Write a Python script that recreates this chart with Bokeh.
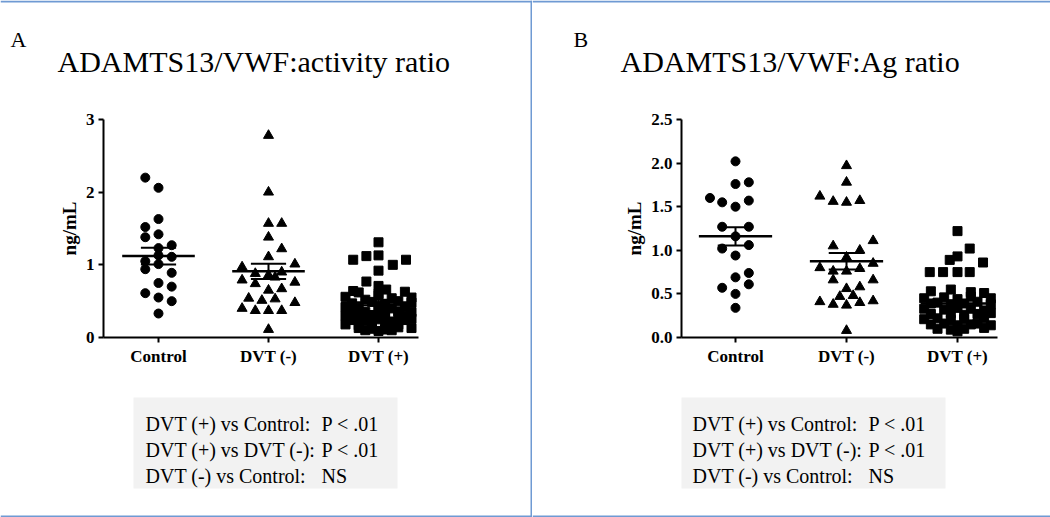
from bokeh.plotting import figure
from bokeh.layouts import row
from bokeh.models import FixedTicker, PrintfTickFormatter, Range1d
from bokeh.core.properties import value
from bokeh.embed import file_html
from bokeh.resources import INLINE

categories = ["Control", "DVT (-)", "DVT (+)"]

# ---------------- Panel A : ADAMTS13/VWF:activity ratio ----------------
a_ctrl = [2.20, 2.06, 1.63, 1.52, 1.42, 1.38, 1.27, 1.23, 1.11, 1.05,
          1.13, 0.94, 1.01, 0.89, 0.75, 0.70, 0.61, 0.55, 0.50, 0.33]
a_ctrl_dx = [-0.12, 0, 0, -0.12, 0, -0.12, 0.12, 0, 0.12, -0.12,
             0, -0.12, 0, 0.12, 0, 0.12, -0.12, 0, 0.12, 0]

a_neg = [2.78, 2.00, 1.57, 1.57, 1.38, 1.22, 1.11, 0.97, 1.01, 0.88,
         0.86, 0.83, 0.90, 0.79, 0.74, 0.65, 0.67, 0.76, 0.54, 0.51,
         0.53, 0.40, 0.37, 0.37, 0.37, 0.48, 0.11]
a_neg_dx = [0, 0, 0, 0.12, 0, 0.12, 0, -0.24, 0.24, -0.12,
            0, 0.06, 0.12, -0.24, -0.12, 0, 0.12, 0.24, -0.18, -0.06,
            0.06, -0.24, -0.12, 0, 0.12, 0.24, 0]

a_pos = [1.31, 1.07, 1.12, 1.13, 1.07, 1.00, 0.92, 0.77, 0.71, 0.64, 0.66,
         0.62, 0.60, 0.63,
         0.56, 0.52, 0.58, 0.54, 0.55,
         0.47, 0.49, 0.46, 0.50, 0.48,
         0.42, 0.41, 0.43, 0.40, 0.42,
         0.36, 0.35, 0.37, 0.34, 0.36, 0.35,
         0.30, 0.29, 0.31, 0.28, 0.30, 0.29,
         0.24, 0.23, 0.25, 0.22, 0.24, 0.26,
         0.18, 0.17, 0.19, 0.16, 0.18,
         0.13, 0.12, 0.11, 0.14, 0.13,
         0.10, 0.09, 0.10]
a_pos_dx = [0, -0.23, -0.11, 0, 0.25, 0.13, 0, -0.11, 0, -0.23, 0.07,
            -0.18, 0.0, 0.24,
            -0.30, -0.12, 0.0, 0.12, 0.30,
            -0.24, -0.06, 0.06, 0.18, 0.30,
            -0.30, -0.18, 0.0, 0.12, 0.24,
            -0.24, -0.12, 0.0, 0.06, 0.18, 0.30,
            -0.30, -0.18, -0.06, 0.06, 0.18, 0.24,
            -0.24, -0.12, 0.0, 0.12, 0.24, 0.30,
            -0.30, -0.18, -0.06, 0.06, 0.18,
            -0.18, -0.06, 0.06, 0.18, 0.30,
            -0.12, 0.0, 0.12]

a_means = [1.12, 0.91, 0.48]
a_sems = [0.115, 0.105, 0.04]
a_yticks = [0, 1, 2, 3]

# ---------------- Panel B : ADAMTS13/VWF:Ag ratio ----------------
b_ctrl = [2.02, 1.76, 1.78, 1.60, 1.55, 1.50, 1.57, 1.27, 1.27, 1.16,
          1.02, 1.06, 0.94, 0.74, 0.69, 0.57, 0.61, 0.50, 0.34]
b_ctrl_dx = [0, 0, 0.12, -0.23, -0.12, 0, 0.12, -0.12, 0.12, 0,
             -0.12, 0.12, 0, 0.12, 0, -0.12, 0.12, 0, 0]

b_neg = [1.97, 1.78, 1.62, 1.56, 1.55, 1.57, 1.05, 1.11, 1.00, 0.92,
         0.80, 0.76, 0.76, 0.79, 0.85, 0.66, 0.66, 0.56, 0.58, 0.48,
         0.47, 0.41, 0.38, 0.37, 0.40, 0.42, 0.08]
b_neg_dx = [0, 0, -0.24, -0.12, 0, 0.12, -0.12, 0.24, 0.12, 0,
            -0.24, -0.12, 0, 0.12, 0.24, -0.12, 0.24, 0, 0.12, 0.06,
            -0.06, -0.24, -0.12, 0, 0.12, 0.24, 0]

b_pos = [1.22, 1.02, 0.93, 0.89, 0.86, 0.75, 0.75, 0.75, 0.75,
         0.53, 0.55, 0.52, 0.51,
         0.45, 0.46, 0.44, 0.47, 0.45,
         0.39, 0.40, 0.38, 0.39, 0.41, 0.38,
         0.33, 0.32, 0.34, 0.33, 0.31,
         0.27, 0.28, 0.26, 0.27, 0.28,
         0.21, 0.22, 0.20, 0.21, 0.22,
         0.15, 0.16, 0.14, 0.15, 0.16, 0.14,
         0.10, 0.09, 0.10, 0.11,
         0.07]
b_pos_dx = [0, 0.11, 0, -0.07, 0.23, -0.25, -0.13, 0, 0.11,
            -0.24, -0.06, 0.12, 0.24,
            -0.30, -0.12, 0.0, 0.12, 0.30,
            -0.24, -0.18, -0.06, 0.06, 0.18, 0.30,
            -0.30, -0.12, 0.0, 0.12, 0.24,
            -0.24, -0.06, 0.06, 0.18, 0.30,
            -0.30, -0.18, -0.06, 0.06, 0.24,
            -0.24, -0.12, 0.0, 0.12, 0.18, 0.30,
            -0.18, -0.06, 0.06, 0.24,
            0.0]

b_means = [1.16, 0.875, 0.39]
b_sems = [0.105, 0.095, 0.035]
b_yticks = [0, 0.5, 1.0, 1.5, 2.0, 2.5]

stats_left = ["DVT (+) vs Control:", "DVT (+) vs DVT (-):", "DVT (-) vs Control:"]
stats_right = ["P < .01", "P < .01", "NS"]

SERIF = "Liberation Serif"
BLUE = "#6f9ad3"
H = 517
FRAME_TOP, FRAME_BOT = 119, 337     # page y of plot area top / bottom


def panel(x0, w, axis_px, cat0_px, step_px, right_px, y_max, yticks, fmt,
          groups, means, sems, letter, letter_x, title, title_x,
          box_l, box_r, text_x, divider):
    # data ranges chosen so that the whole canvas is the frame
    per_unit_y = (FRAME_BOT - FRAME_TOP) / y_max
    xr = Range1d((x0 - cat0_px) / step_px, (x0 + w - cat0_px) / step_px)
    yr = Range1d((FRAME_BOT - H) / per_unit_y, FRAME_BOT / per_unit_y)
    p = figure(width=w, height=H, output_backend="svg", toolbar_location=None,
               x_range=xr, y_range=yr,
               min_border=0, min_border_left=0, min_border_right=0,
               min_border_top=0, min_border_bottom=0)
    p.title.visible = False
    p.outline_line_color = None
    p.grid.visible = False
    p.background_fill_color = "white"
    p.border_fill_color = "white"
    # page-pixel ranges for the decorations
    p.extra_x_ranges = {"px": Range1d(x0, x0 + w)}
    p.extra_y_ranges = {"py": Range1d(H, 0)}

    x_lo = (axis_px - cat0_px) / step_px
    x_hi = (right_px - cat0_px) / step_px

    xa, ya = p.xaxis[0], p.yaxis[0]
    xa.fixed_location = 0
    ya.fixed_location = x_lo
    xa.bounds = (x_lo, x_hi)
    ya.bounds = (0, y_max)
    xa.ticker = FixedTicker(ticks=[0, 1, 2])
    xa.major_label_overrides = {i: c for i, c in enumerate(categories)}
    ya.ticker = FixedTicker(ticks=yticks)
    if fmt:
        ya.formatter = PrintfTickFormatter(format=fmt)
    for ax in (xa, ya):
        ax.axis_line_width = 2
        ax.axis_line_color = "black"
        ax.major_tick_line_width = 2
        ax.major_tick_in = 0
        ax.major_tick_out = 5
        ax.minor_tick_line_color = None
        ax.major_label_text_font = SERIF
        ax.major_label_text_font_style = "bold"
        ax.major_label_text_font_size = "17px"
        ax.major_label_text_color = "black"
        ax.major_label_standoff = 4
    ya.axis_label = "ng/mL"
    ya.axis_label_text_font = SERIF
    ya.axis_label_text_font_style = "bold"
    ya.axis_label_text_font_size = "19px"
    ya.axis_label_text_color = "black"
    ya.axis_label_standoff = 3

    # ---- decorations in page pixels ----
    deco = dict(x_range_name="px", y_range_name="py")
    p.quad(left=[x0], right=[x0 + w], top=[0], bottom=[2],
           fill_color=BLUE, line_color=None, **deco)
    p.quad(left=[x0], right=[x0 + w], top=[515], bottom=[517],
           fill_color=BLUE, line_color=None, **deco)
    if divider is not None:
        p.quad(left=[divider], right=[divider + 2], top=[0], bottom=[H],
               fill_color=BLUE, line_color=None, **deco)
    p.text(x=[letter_x], y=[39], text=[letter], text_font=value(SERIF),
           text_font_size="22px", text_color="black",
           text_baseline="alphabetic", text_align="left", **deco)
    p.text(x=[title_x], y=[61], text=[title], text_font=value(SERIF),
           text_font_size="30px", text_color="black",
           text_baseline="alphabetic", text_align="left", **deco)
    p.quad(left=[box_l], right=[box_r], top=[397], bottom=[488],
           fill_color="#f2f2f2", line_color=None, **deco)
    base = [423, 449, 475]
    p.text(x=[text_x] * 3, y=base, text=stats_left, text_font=value(SERIF),
           text_font_size="20px", text_color="black",
           text_baseline="alphabetic", text_align="left", **deco)
    p.text(x=[text_x + 176] * 3, y=base, text=stats_right, text_font=value(SERIF),
           text_font_size="20px", text_color="black",
           text_baseline="alphabetic", text_align="left", **deco)

    # ---- data ----
    markers = ["circle", "triangle", "square"]
    sizes = [9, 10, 9]
    for i, (vals, dx) in enumerate(groups):
        xs = [i + d for d in dx]
        p.scatter(xs, vals, marker=markers[i], size=sizes[i],
                  fill_color="black", line_color="black")

    cats = [0, 1, 2]
    p.segment(x0=[c - 0.33 for c in cats], x1=[c + 0.33 for c in cats],
              y0=means, y1=means, line_color="black", line_width=2.5)
    up = [m + s for m, s in zip(means, sems)]
    lo = [m - s for m, s in zip(means, sems)]
    p.segment(x0=cats, x1=cats, y0=lo, y1=up, line_color="black", line_width=2)
    for arr in (up, lo):
        p.segment(x0=[c - 0.16 for c in cats], x1=[c + 0.16 for c in cats],
                  y0=arr, y1=arr, line_color="black", line_width=2)
    return p


pA = panel(0, 532, 103, 158, 110, 418, 3, a_yticks, None,
           [(a_ctrl, a_ctrl_dx), (a_neg, a_neg_dx), (a_pos, a_pos_dx)],
           a_means, a_sems, "A", 10, "ADAMTS13/VWF:activity ratio", 57,
           133, 397, 145, divider=530)
pB = panel(532, 518, 681, 735, 111, 997, 2.5, b_yticks, "%.1f",
           [(b_ctrl, b_ctrl_dx), (b_neg, b_neg_dx), (b_pos, b_pos_dx)],
           b_means, b_sems, "B", 573, "ADAMTS13/VWF:Ag ratio", 620,
           681, 945, 692, divider=None)

layout = row(pA, pB, spacing=0)
open("out.html", "w").write(file_html(layout, INLINE))
